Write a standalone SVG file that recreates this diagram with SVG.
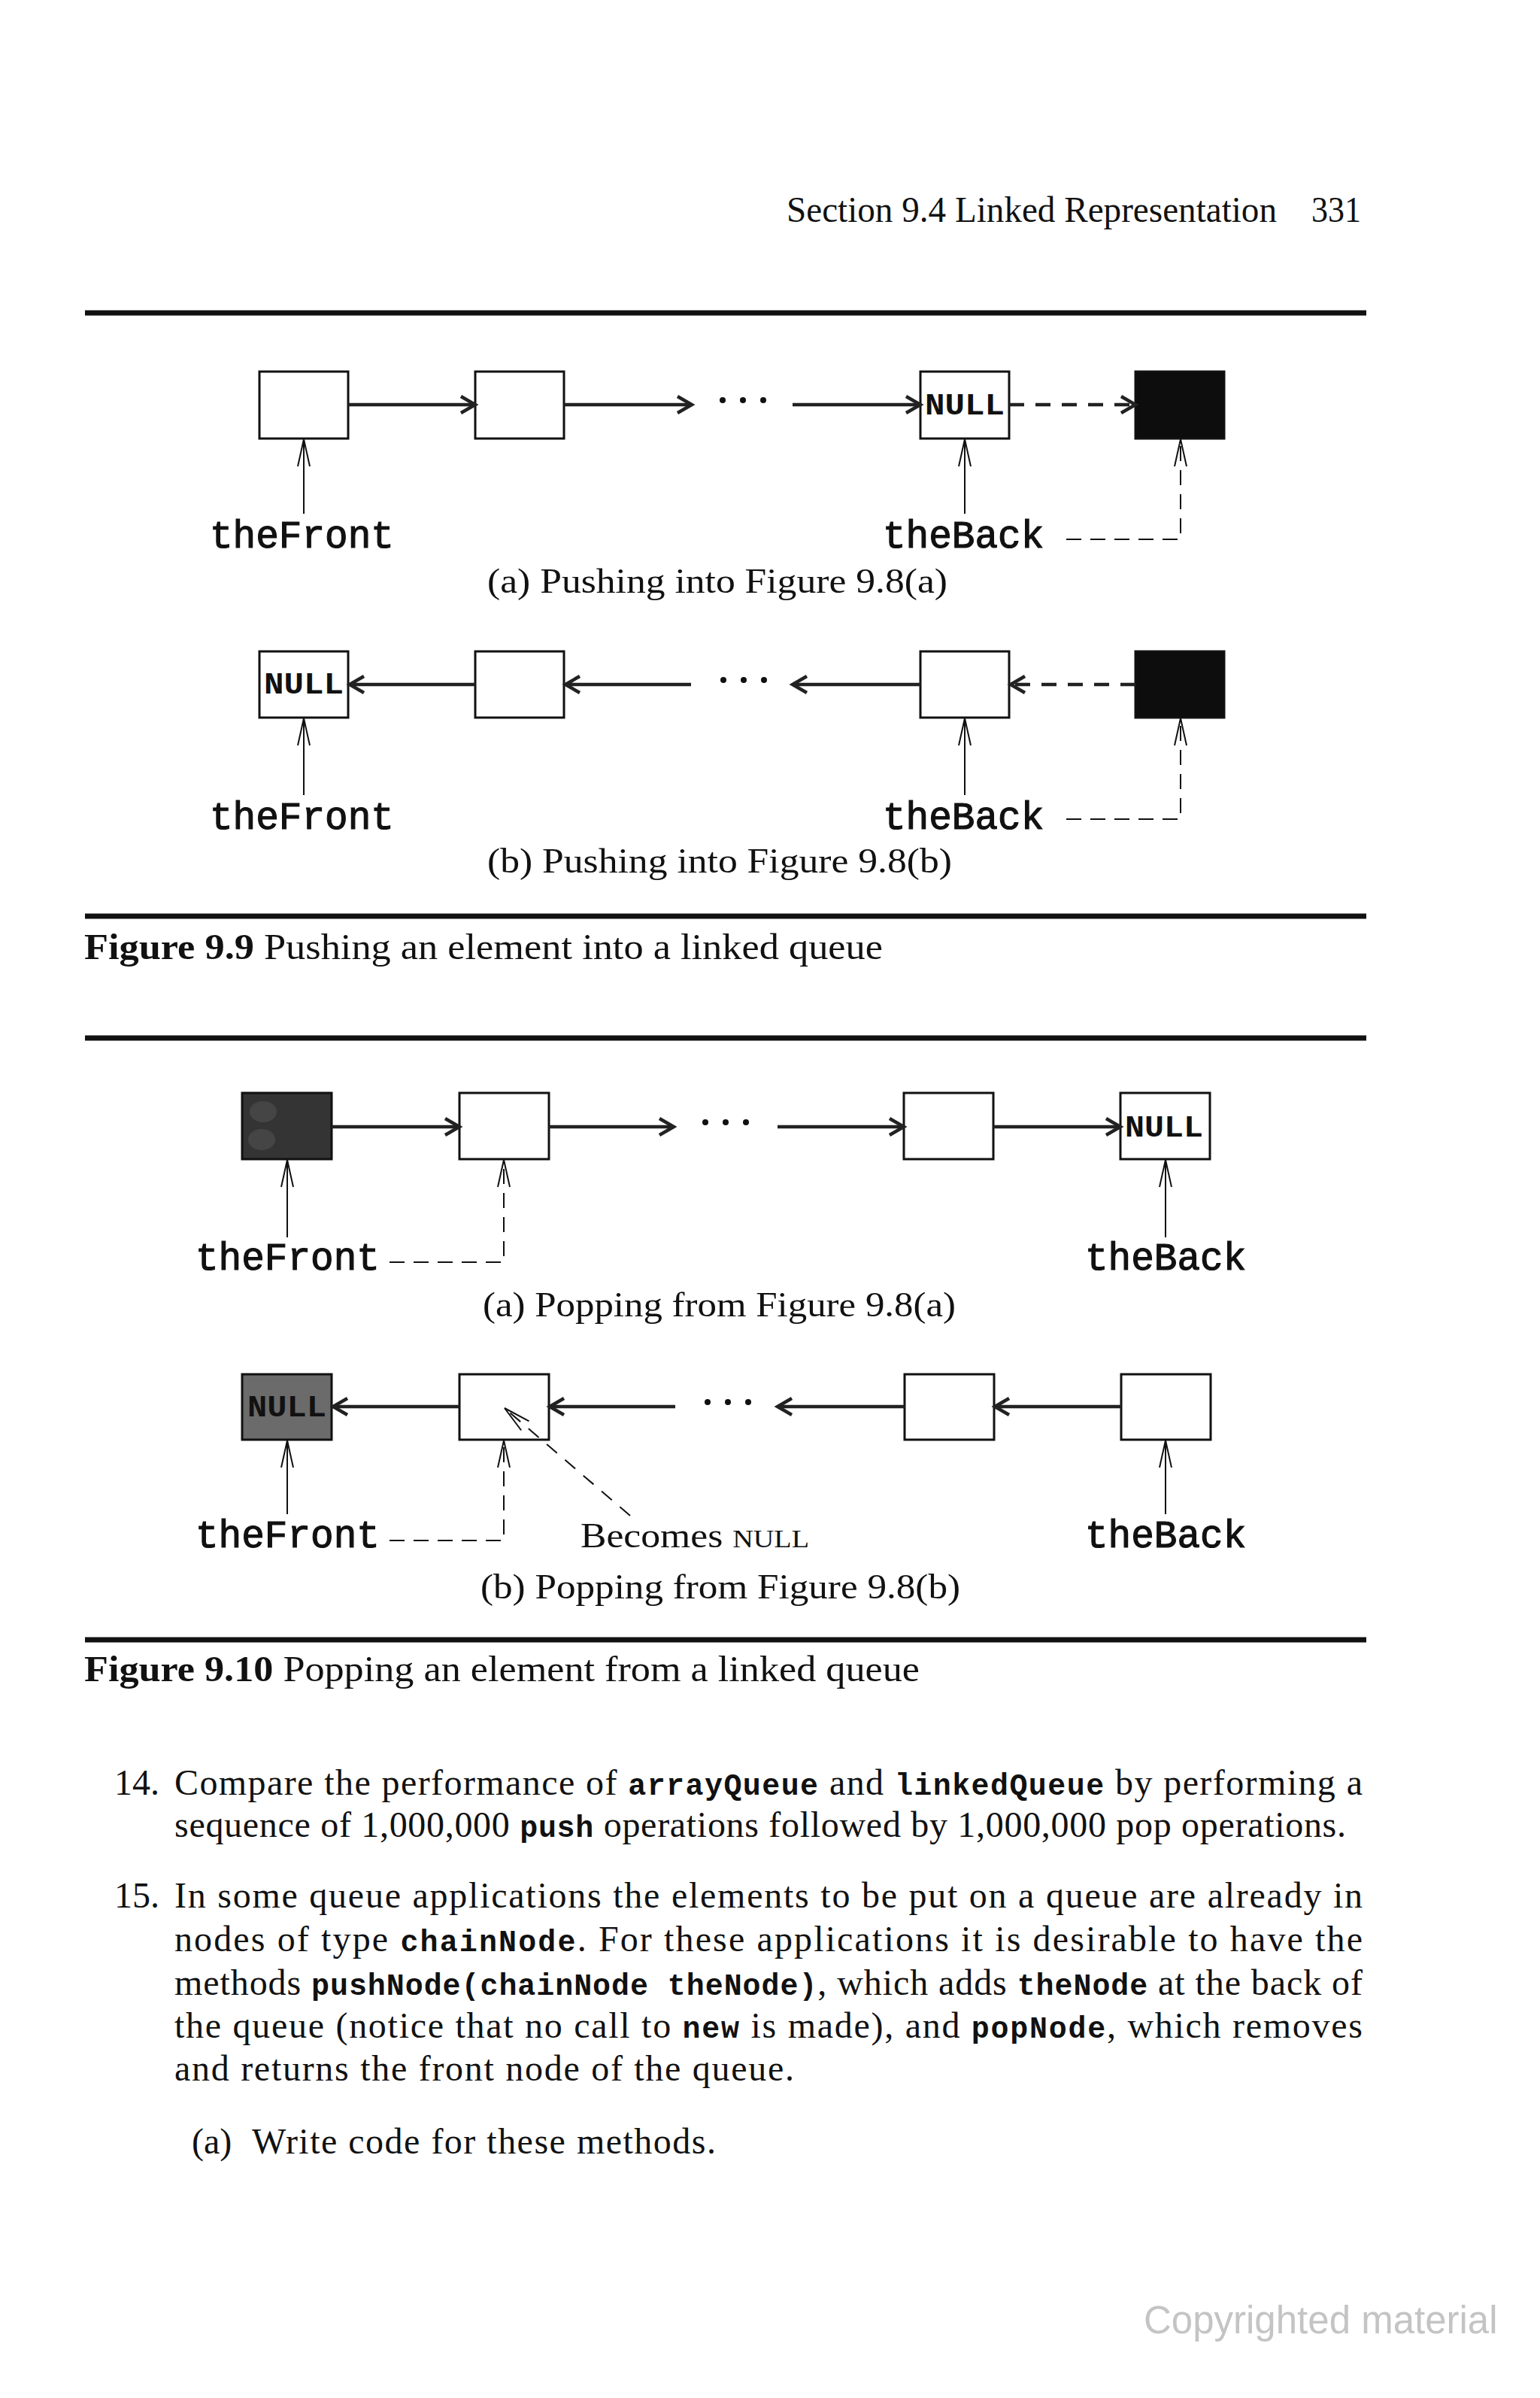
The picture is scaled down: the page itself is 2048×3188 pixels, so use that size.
<svg xmlns="http://www.w3.org/2000/svg" width="2048" height="3188" viewBox="0 0 2048 3188">
<style>
.serif{font-family:"Liberation Serif","DejaVu Serif",serif;fill:#111}
.mono{font-family:"Liberation Mono","DejaVu Sans Mono",monospace;fill:#111}
.lbl{font-family:"Liberation Mono","DejaVu Sans Mono",monospace;font-size:51px;fill:#111;stroke:#111;stroke-width:1.2}
.tt{font-family:"Liberation Mono","DejaVu Sans Mono",monospace;font-weight:bold;font-size:40px}
.null{font-family:"Liberation Mono","DejaVu Sans Mono",monospace;font-weight:bold;font-size:40px;fill:#111}
.cap{font-family:"Liberation Serif","DejaVu Serif",serif;font-size:46px;fill:#111}
.body{font-family:"Liberation Serif","DejaVu Serif",serif;font-size:48px;fill:#111}
.box{fill:#fff;stroke:#111;stroke-width:3}
.link{stroke:#222;stroke-width:4.5;fill:none;marker-end:url(#ah)}
.dlink{stroke:#222;stroke-width:4.5;fill:none;stroke-dasharray:20 15;marker-end:url(#ah)}
.ptr{stroke:#111;stroke-width:2;fill:none;marker-end:url(#ph)}
.dptr{stroke:#111;stroke-width:2;fill:none;stroke-dasharray:20 12;marker-end:url(#ph)}
.rule{stroke:#111;stroke-width:7}
.dot{fill:#111}
</style>
<defs>
<marker id="ah" markerUnits="userSpaceOnUse" markerWidth="28" markerHeight="28" refX="22" refY="14" orient="auto">
<path d="M3,3 L22,14 L3,25" fill="none" stroke="#222" stroke-width="4.5"/>
</marker>
<marker id="ph" markerUnits="userSpaceOnUse" markerWidth="40" markerHeight="20" refX="37" refY="10" orient="auto">
<path d="M1,2 L37,10 L1,18" fill="none" stroke="#111" stroke-width="2"/>
</marker>
</defs>
<rect width="2048" height="3188" fill="#fff"/>

<text class="serif" x="1046" y="295" font-size="48" textLength="652" lengthAdjust="spacingAndGlyphs">Section 9.4 Linked Representation</text>
<text class="serif" x="1744" y="295" font-size="48" textLength="66" lengthAdjust="spacingAndGlyphs">331</text>
<line class="rule" x1="113" y1="416" x2="1817" y2="416"/>

<!-- Figure 9.9 (a) -->
<g id="fig9-9a">
<g id="a-n1"><rect class="box" x="345" y="494" width="118" height="89"/></g>
<g id="a-n2"><rect class="box" x="632" y="494" width="118" height="89"/></g>
<g id="a-n3"><rect class="box" x="1224" y="494" width="118" height="89"/><text class="null" x="1230" y="551" textLength="106" lengthAdjust="spacingAndGlyphs">NULL</text></g>
<g id="a-n4"><rect class="box" x="1510" y="494" width="118" height="89" style="fill:#0d0d0d"/></g>
<g id="a-dots"><circle class="dot" cx="961" cy="532" r="4"/><circle class="dot" cx="988" cy="532" r="4"/><circle class="dot" cx="1015" cy="532" r="4"/></g>
<g id="a-front"><text class="lbl" x="279" y="728">theFront</text></g>
<g id="a-back"><text class="lbl" x="1174" y="728">theBack</text></g>
<g id="a-conn">
<line class="link" x1="463" y1="538" x2="632" y2="538"/>
<line class="link" x1="750" y1="538" x2="920" y2="538"/>
<line class="link" x1="1054" y1="538" x2="1224" y2="538"/>
<line class="dlink" x1="1342" y1="538" x2="1510" y2="538"/>
<line class="ptr" x1="404" y1="683" x2="404" y2="584"/>
<line class="ptr" x1="1283" y1="683" x2="1283" y2="584"/>
<path class="dptr" d="M1418,717 H1570 V584"/>
</g>
<text class="cap" x="648" y="788" textLength="612" lengthAdjust="spacingAndGlyphs">(a) Pushing into Figure 9.8(a)</text>
</g>

<!-- Figure 9.9 (b) -->
<g id="fig9-9b">
<g id="b-n1"><rect class="box" x="345" y="866" width="118" height="88"/><text class="null" x="351" y="922" textLength="106" lengthAdjust="spacingAndGlyphs">NULL</text></g>
<g id="b-n2"><rect class="box" x="632" y="866" width="118" height="88"/></g>
<g id="b-n3"><rect class="box" x="1224" y="866" width="118" height="88"/></g>
<g id="b-n4"><rect class="box" x="1510" y="866" width="118" height="88" style="fill:#0d0d0d"/></g>
<g id="b-dots"><circle class="dot" cx="962" cy="904" r="4"/><circle class="dot" cx="989" cy="904" r="4"/><circle class="dot" cx="1016" cy="904" r="4"/></g>
<g id="b-front"><text class="lbl" x="279" y="1102">theFront</text></g>
<g id="b-back"><text class="lbl" x="1174" y="1102">theBack</text></g>
<g id="b-conn">
<line class="link" x1="632" y1="910" x2="465" y2="910"/>
<line class="link" x1="919" y1="910" x2="752" y2="910"/>
<line class="link" x1="1224" y1="910" x2="1054" y2="910"/>
<line class="dlink" x1="1510" y1="910" x2="1344" y2="910"/>
<line class="ptr" x1="404" y1="1057" x2="404" y2="955"/>
<line class="ptr" x1="1283" y1="1057" x2="1283" y2="955"/>
<path class="dptr" d="M1418,1089 H1570 V955"/>
</g>
<text class="cap" x="648" y="1160" textLength="618" lengthAdjust="spacingAndGlyphs">(b) Pushing into Figure 9.8(b)</text>
</g>

<line class="rule" x1="113" y1="1218" x2="1817" y2="1218"/>
<text class="serif" x="112" y="1275" font-size="48" textLength="1062" lengthAdjust="spacingAndGlyphs"><tspan font-weight="bold">Figure 9.9</tspan> Pushing an element into a linked queue</text>

<line class="rule" x1="113" y1="1380" x2="1817" y2="1380"/>

<!-- Figure 9.10 (a) -->
<g id="fig9-10a">
<g id="c-n1"><rect class="box" x="322" y="1453" width="119" height="88" style="fill:#343434"/><ellipse cx="350" cy="1478" rx="18" ry="14" fill="#5e5e5e" opacity="0.4"/><ellipse cx="348" cy="1515" rx="18" ry="14" fill="#5e5e5e" opacity="0.4"/></g>
<g id="c-n2"><rect class="box" x="611" y="1453" width="119" height="88"/></g>
<g id="c-n3"><rect class="box" x="1202" y="1453" width="119" height="88"/></g>
<g id="c-n4"><rect class="box" x="1490" y="1453" width="119" height="88"/><text class="null" x="1496" y="1511" textLength="104" lengthAdjust="spacingAndGlyphs">NULL</text></g>
<g id="c-dots"><circle class="dot" cx="938" cy="1492" r="4"/><circle class="dot" cx="965" cy="1492" r="4"/><circle class="dot" cx="992" cy="1492" r="4"/></g>
<g id="c-front"><text class="lbl" x="260" y="1688">theFront</text></g>
<g id="c-back"><text class="lbl" x="1443" y="1688">theBack</text></g>
<g id="c-conn">
<line class="link" x1="441" y1="1498" x2="611" y2="1498"/>
<line class="link" x1="730" y1="1498" x2="896" y2="1498"/>
<line class="link" x1="1034" y1="1498" x2="1202" y2="1498"/>
<line class="link" x1="1321" y1="1498" x2="1490" y2="1498"/>
<line class="ptr" x1="382" y1="1645" x2="382" y2="1542"/>
<line class="ptr" x1="1550" y1="1645" x2="1550" y2="1542"/>
<path class="dptr" d="M518,1678 H670 V1542"/>
</g>
<text class="cap" x="642" y="1750" textLength="629" lengthAdjust="spacingAndGlyphs">(a) Popping from Figure 9.8(a)</text>
</g>

<!-- Figure 9.10 (b) -->
<g id="fig9-10b">
<g id="d-n1"><rect class="box" x="322" y="1827" width="119" height="87" style="fill:#6b6b6b"/><text class="null" x="329" y="1883" textLength="105" lengthAdjust="spacingAndGlyphs">NULL</text></g>
<g id="d-n2"><rect class="box" x="611" y="1827" width="119" height="87"/></g>
<g id="d-n3"><rect class="box" x="1203" y="1827" width="119" height="87"/></g>
<g id="d-n4"><rect class="box" x="1491" y="1827" width="119" height="87"/></g>
<g id="d-dots"><circle class="dot" cx="941" cy="1864" r="4"/><circle class="dot" cx="968" cy="1864" r="4"/><circle class="dot" cx="995" cy="1864" r="4"/></g>
<g id="d-front"><text class="lbl" x="260" y="2057">theFront</text></g>
<g id="d-note"><text class="cap" x="772" y="2057" textLength="304" lengthAdjust="spacingAndGlyphs">Becomes <tspan font-size="34">NULL</tspan></text></g>
<g id="d-back"><text class="lbl" x="1443" y="2057">theBack</text></g>
<g id="d-conn">
<line class="link" x1="611" y1="1870" x2="443" y2="1870"/>
<line class="link" x1="898" y1="1870" x2="731" y2="1870"/>
<line class="link" x1="1203" y1="1870" x2="1034" y2="1870"/>
<line class="link" x1="1491" y1="1870" x2="1323" y2="1870"/>
<line class="ptr" x1="382" y1="2013" x2="382" y2="1915"/>
<line class="ptr" x1="1550" y1="2013" x2="1550" y2="1915"/>
<path class="dptr" d="M518,2048 H670 V1915"/>
<line class="dptr" x1="838" y1="2015" x2="671" y2="1872" style="stroke-dasharray:18 14"/>
</g>
<text class="cap" x="639" y="2125" textLength="638" lengthAdjust="spacingAndGlyphs">(b) Popping from Figure 9.8(b)</text>
</g>

<line class="rule" x1="113" y1="2180" x2="1817" y2="2180"/>
<text class="serif" x="112" y="2235" font-size="48" textLength="1111" lengthAdjust="spacingAndGlyphs"><tspan font-weight="bold">Figure 9.10</tspan> Popping an element from a linked queue</text>

<!-- Exercises -->
<g id="exercises">
<text class="body" x="152" y="2386">14.</text>
<text class="body" x="232" y="2386" textLength="1580" lengthAdjust="spacing">Compare the performance of <tspan class="tt">arrayQueue</tspan> and <tspan class="tt">linkedQueue</tspan> by performing a</text>
<text class="body" x="232" y="2442" textLength="1558" lengthAdjust="spacing">sequence of 1,000,000 <tspan class="tt">push</tspan> operations followed by 1,000,000 pop operations.</text>
<text class="body" x="152" y="2536">15.</text>
<text class="body" x="232" y="2536" textLength="1580" lengthAdjust="spacing">In some queue applications the elements to be put on a queue are already in</text>
<text class="body" x="232" y="2594" textLength="1580" lengthAdjust="spacing">nodes of type <tspan class="tt">chainNode</tspan>. For these applications it is desirable to have the</text>
<text class="body" x="232" y="2652" textLength="1580" lengthAdjust="spacing">methods <tspan class="tt">pushNode(chainNode theNode)</tspan>, which adds <tspan class="tt">theNode</tspan> at the back of</text>
<text class="body" x="232" y="2709" textLength="1580" lengthAdjust="spacing">the queue (notice that no call to <tspan class="tt">new</tspan> is made), and <tspan class="tt">popNode</tspan>, which removes</text>
<text class="body" x="232" y="2766" textLength="824" lengthAdjust="spacing">and returns the front node of the queue.</text>
<text class="body" x="255" y="2863">(a)</text>
<text class="body" x="335" y="2863" textLength="617" lengthAdjust="spacing">Write code for these methods.</text>
</g>

<text x="1521" y="3102" font-family="Liberation Sans, Arial, sans-serif" font-size="51" fill="#c4c4c4">Copyrighted material</text>
</svg>
